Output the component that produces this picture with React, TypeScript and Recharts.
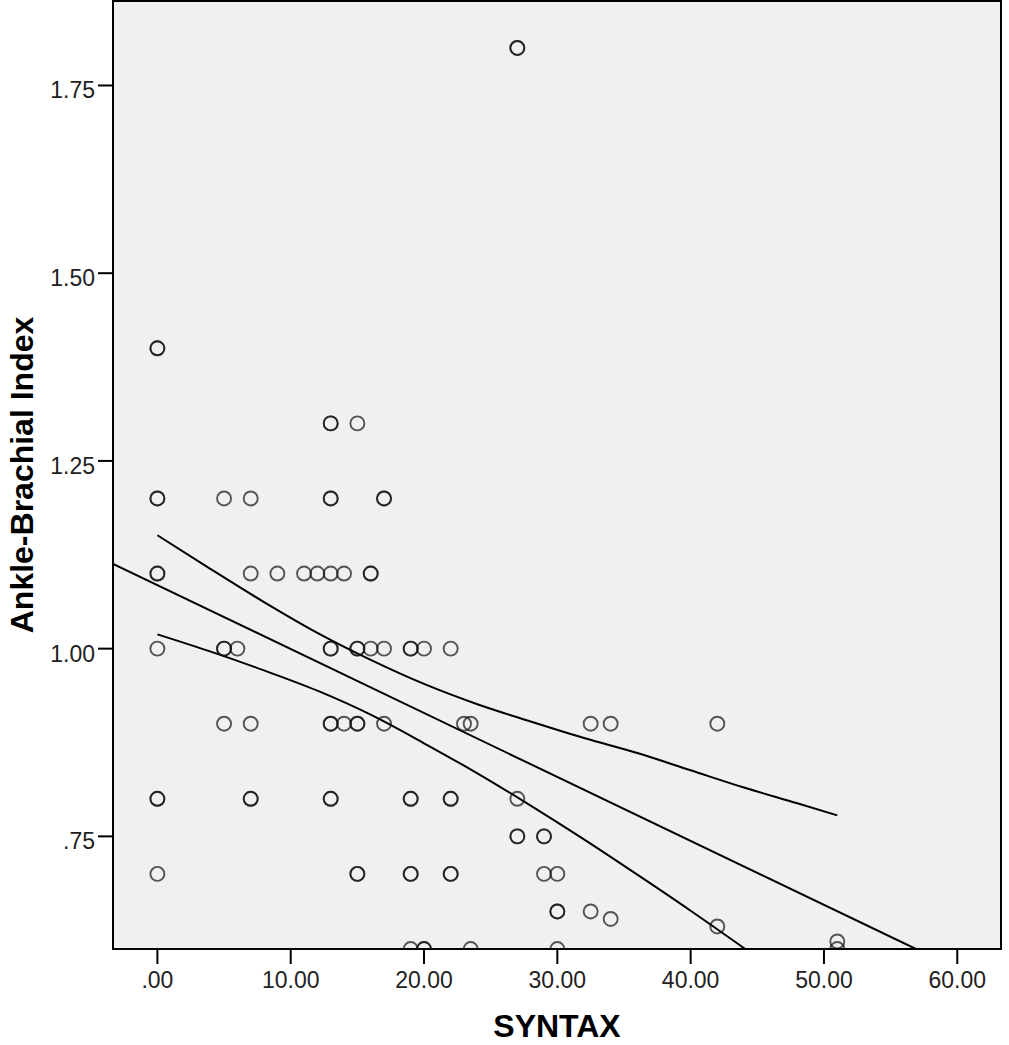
import React from 'react';
import { ComposedChart, Scatter, Line, XAxis, YAxis, ReferenceArea } from 'recharts';

// SYNTAX score (x) and Ankle-Brachial Index (y) for each patient, grouped by row
const syntax = [
  27, 27,
  0, 0,
  13, 13, 15,
  0, 0, 5, 7, 13, 13, 17, 17,
  0, 0, 7, 9, 11, 12, 13, 14, 16, 16,
  0, 5, 5, 6, 13, 13, 15, 15, 16, 17, 19, 19, 20, 22,
  5, 7, 13, 13, 14, 15, 15, 17, 23, 23.5, 32.5, 34, 42,
  0, 0, 7, 7, 13, 13, 19, 19, 22, 22, 27,
  27, 27, 29, 29,
  0, 15, 15, 19, 19, 22, 22, 29, 30,
  30, 30, 32.5,
  34,
  42,
  51,
  19, 20, 20, 23.5, 30, 51,
];
const abi = [
  1.8, 1.8,
  1.4, 1.4,
  1.3, 1.3, 1.3,
  1.2, 1.2, 1.2, 1.2, 1.2, 1.2, 1.2, 1.2,
  1.1, 1.1, 1.1, 1.1, 1.1, 1.1, 1.1, 1.1, 1.1, 1.1,
  1.0, 1.0, 1.0, 1.0, 1.0, 1.0, 1.0, 1.0, 1.0, 1.0, 1.0, 1.0, 1.0, 1.0,
  0.9, 0.9, 0.9, 0.9, 0.9, 0.9, 0.9, 0.9, 0.9, 0.9, 0.9, 0.9, 0.9,
  0.8, 0.8, 0.8, 0.8, 0.8, 0.8, 0.8, 0.8, 0.8, 0.8, 0.8,
  0.75, 0.75, 0.75, 0.75,
  0.7, 0.7, 0.7, 0.7, 0.7, 0.7, 0.7, 0.7, 0.7,
  0.65, 0.65, 0.65,
  0.64,
  0.63,
  0.61,
  0.6, 0.6, 0.6, 0.6, 0.6, 0.6,
];

// Fit line and 95% mean confidence band
const fitX = [-3.33, 56.9];
const fitY = [1.113, 0.6];
const upperX = [0, 4, 8, 12, 16, 20, 24, 28, 32, 36, 40, 44, 48, 51];
const upperY = [1.151, 1.106, 1.062, 1.021, 0.985, 0.953, 0.926, 0.903, 0.881, 0.861, 0.838, 0.815, 0.794, 0.778];
const lowerX = [0, 4, 8, 12, 16, 20, 24, 28, 32, 36, 40, 44.1];
const lowerY = [1.019, 0.996, 0.971, 0.944, 0.912, 0.874, 0.834, 0.791, 0.746, 0.699, 0.651, 0.6];

const xTicks = [0, 10, 20, 30, 40, 50, 60];
const yTicks = [0.75, 1.0, 1.25, 1.5, 1.75];
const xDomain: [number, number] = [-3.33, 63.28];
const yDomain: [number, number] = [0.6, 1.8625];

const zip = (xs: number[], ys: number[]) => xs.map((x, i) => ({ x, y: ys[i] }));
const points = zip(syntax, abi);
const fitData = zip(fitX, fitY);
const upperData = zip(upperX, upperY);
const lowerData = zip(lowerX, lowerY);

const fmt = (v: number) => {
  const s = v.toFixed(2);
  return s.startsWith('0') ? s.slice(1) : s;
};

const FONT = '"Liberation Sans", Arial, sans-serif';

const XTick = (props: any) => {
  const { x, y, payload } = props;
  return (
    <text x={x} y={y + 22} textAnchor="middle" fontFamily={FONT} fontSize={23} fill="#222">
      {fmt(payload.value)}
    </text>
  );
};

const YTick = (props: any) => {
  const { x, y, payload } = props;
  return (
    <text x={x} y={y + 13} textAnchor="end" fontFamily={FONT} fontSize={23} fill="#222">
      {fmt(payload.value)}
    </text>
  );
};

const Circle = (props: any) => {
  const { cx, cy } = props;
  if (cx == null || cy == null) return <g />;
  return (
    <circle cx={cx} cy={cy} r={7} fill="none" stroke="#111" strokeOpacity={0.7} strokeWidth={1.9} />
  );
};

const XTitle = (props: any) => {
  const vb = props.viewBox;
  return (
    <text x={vb.x + vb.width / 2} y={vb.y + 88} textAnchor="middle" fontFamily={FONT} fontWeight="bold" fontSize={32} fill="#000">
      SYNTAX
    </text>
  );
};

const YTitle = (props: any) => {
  const vb = props.viewBox;
  const cy = vb.y + vb.height / 2;
  return (
    <text x={33} y={cy} transform={`rotate(-90 33 ${cy})`} textAnchor="middle" fontFamily={FONT} fontWeight="bold" fontSize={32} fill="#000">
      Ankle-Brachial Index
    </text>
  );
};

export default function App() {
  return (
    <div style={{ position: 'absolute', left: 0, top: 0, width: 1009, height: 1045, background: '#fff' }}>
      <ComposedChart width={1009} height={1045} margin={{ top: 1, right: 8, bottom: 0, left: 0 }}>
        <XAxis
          type="number"
          dataKey="x"
          domain={xDomain}
          ticks={xTicks}
          interval={0}
          allowDataOverflow
          height={96}
          axisLine={false}
          tickLine={{ stroke: '#000', strokeWidth: 2 }}
          tickSize={15}
          tickMargin={2}
          tick={<XTick />}
          label={<XTitle />}
        />
        <YAxis
          type="number"
          dataKey="y"
          domain={yDomain}
          ticks={yTicks}
          interval={0}
          allowDataOverflow
          width={113}
          axisLine={false}
          tickLine={{ stroke: '#000', strokeWidth: 2 }}
          tickSize={15}
          tickMargin={3}
          tick={<YTick />}
          label={<YTitle />}
        />
        <ReferenceArea
          x1={xDomain[0]}
          x2={xDomain[1]}
          y1={yDomain[0]}
          y2={yDomain[1]}
          fill="#f0f0f0"
          fillOpacity={1}
          stroke="#000"
          strokeWidth={2}
        />
        <Scatter data={points} dataKey="y" shape={<Circle />} isAnimationActive={false} />
        <Line data={fitData} dataKey="y" type="linear" dot={false} stroke="#000" strokeWidth={2} isAnimationActive={false} />
        <Line data={upperData} dataKey="y" type="monotone" dot={false} stroke="#000" strokeWidth={2} isAnimationActive={false} />
        <Line data={lowerData} dataKey="y" type="monotone" dot={false} stroke="#000" strokeWidth={2} isAnimationActive={false} />
      </ComposedChart>
    </div>
  );
}
